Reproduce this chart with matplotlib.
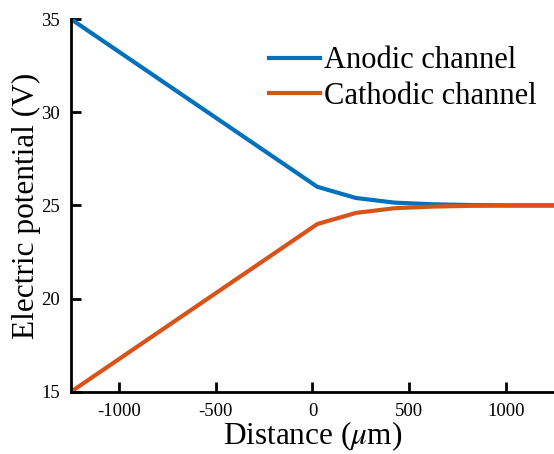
import numpy as np
import matplotlib
matplotlib.use("Agg")
import matplotlib.pyplot as plt

plt.rcParams['font.family'] = ['Liberation Serif', 'DejaVu Serif']
plt.rcParams['mathtext.fontset'] = 'stix'

distance = [-1250, 25, 225, 425, 625, 825, 1025, 1250]
anodic = [35, 26, 25.4, 25.15, 25.06, 25.02, 25.0, 25.0]
cathodic = [15, 24, 24.6, 24.85, 24.94, 24.98, 25.0, 25.0]

fig = plt.figure(figsize=(5.54, 4.54), dpi=100)
ax = fig.add_axes([0.128, 0.137, 0.872, 0.821])

ax.plot(distance, anodic, color='#0072BD', linewidth=3, label='Anodic channel')
ax.plot(distance, cathodic, color='#D95319', linewidth=3, label='Cathodic channel')

ax.set_xlim(-1250, 1250)
ax.set_ylim(15, 35)
ax.set_xticks([-1000, -500, 0, 500, 1000])
ax.set_yticks([15, 20, 25, 30, 35])
ax.set_xticklabels(['-1000', '-500', '0', '500', '1000'])
ax.tick_params(direction='in', length=7, width=2, labelsize=13.5, pad=8)
for s in ['top', 'right']:
    ax.spines[s].set_visible(False)
for s in ['left', 'bottom']:
    ax.spines[s].set_linewidth(2)

ax.set_xlabel(r'Distance ($\mu$m)', fontsize=22.5, labelpad=0)
ax.set_ylabel('Electric potential (V)', fontsize=22.5, labelpad=0)
ax.legend(loc='upper right', bbox_to_anchor=(1.008, 0.984), fontsize=22,
          frameon=False, handlelength=1.67, handletextpad=0.13,
          borderaxespad=0.3, labelspacing=0.2)

fig.savefig('out.png', dpi=100)
